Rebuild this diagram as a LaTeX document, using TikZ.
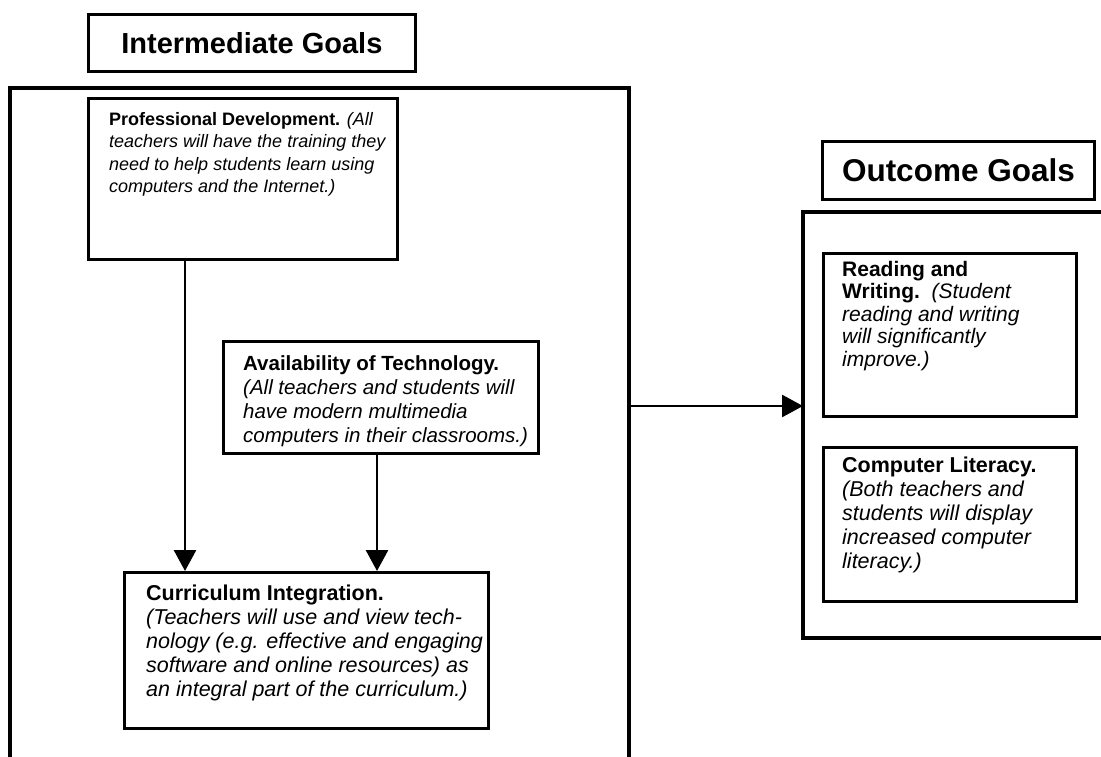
\documentclass[tikz,border=0pt]{standalone}
\usepackage{fontspec}
\setmainfont{Liberation Sans}
\usetikzlibrary{arrows.meta}
\tikzset{
  bigframe/.style={line width=3.8pt, line join=miter},
  boxframe/.style={draw, line width=2.8pt, rectangle, inner sep=0pt, anchor=north west},
  titletext/.style={font=\bfseries\fontsize{#1}{34}\selectfont},
  bodytext/.style={anchor=north west, inner sep=0pt, align=left},
  flow/.style={line width=2.8pt, -{Triangle[width=22pt,length=21pt]}}
}
\begin{document}
\begin{tikzpicture}[x=1pt,y=-1pt]
\useasboundingbox (0,0) rectangle (1101,757);
% titles
\node[boxframe, minimum width=327pt, minimum height=57pt] (tint) at (87,13) {};
\node[titletext=29] (tintt) at (tint.center) {Intermediate Goals};
\node[boxframe, minimum width=272pt, minimum height=58pt] (tout) at (821,140) {};
\node[titletext=31.5] (toutt) at (tout.center) {Outcome Goals};
% big frames (open at the picture edges)
\coordinate (lbl) at (10,757);
\coordinate (ltl) at (10,88);
\coordinate (ltr) at (629,88);
\coordinate (lbr) at (629,757);
\draw[bigframe] (lbl) -- (ltl) -- (ltr) -- (lbr);
\coordinate (rtr) at (1101,212);
\coordinate (rtl) at (803,212);
\coordinate (rbl) at (803,638);
\coordinate (rbr) at (1101,638);
\draw[bigframe] (rtr) -- (rtl) -- (rbl) -- (rbr);
% inner boxes
\node[boxframe, minimum width=309pt, minimum height=161pt] (pd) at (87,97) {};
\node[bodytext, font=\fontsize{18}{22.5}\selectfont] (pdt) at (109,112) {\textbf{Professional Development.} \textit{(All}\\
\textit{teachers will have the training they}\\
\textit{need to help students learn using}\\
\textit{computers and the Internet.)}};
\node[boxframe, minimum width=315pt, minimum height=112pt] (av) at (222,340) {};
\node[bodytext, font=\fontsize{20.5}{24}\selectfont] (avt) at (243,355) {\textbf{Availability of Technology.}\\
\textit{(All teachers and students will}\\
\textit{have modern multimedia}\\
\textit{computers in their classrooms.)}};
\node[boxframe, minimum width=364pt, minimum height=156pt] (ci) at (123,571) {};
\node[bodytext, font=\fontsize{21.5}{24}\selectfont] (cit) at (146,585) {\textbf{Curriculum Integration.}\\
\textit{(Teachers will use and view tech-}\\
\textit{nology (e.g. effective and engaging}\\
\textit{software and online resources) as}\\
\textit{an integral part of the curriculum.)}};
\node[boxframe, minimum width=253pt, minimum height=163pt] (rw) at (822,252) {};
\node[bodytext, font=\fontsize{21}{22.5}\selectfont] (rwt) at (842,261) {\textbf{Reading and}\\
\textbf{Writing.}\ \ \textit{(Student}\\
\textit{reading and writing}\\
\textit{will significantly}\\
\textit{improve.)}};
\node[boxframe, minimum width=253pt, minimum height=154pt] (cl) at (822,446) {};
\node[bodytext, font=\fontsize{21.5}{24}\selectfont] (clt) at (842,457) {\textbf{Computer Literacy.}\\
\textit{(Both teachers and}\\
\textit{students will display}\\
\textit{increased computer}\\
\textit{literacy.)}};
% connectors
\draw[flow] (pd.south -| 185,0) -- (ci.north -| 185,0);
\draw[flow] (av.south -| 377,0) -- (ci.north -| 377,0);
\coordinate (aout) at (629,406);
\coordinate (ain) at (803,406);
\draw[flow] (aout) -- (ain);
\end{tikzpicture}
\end{document}
